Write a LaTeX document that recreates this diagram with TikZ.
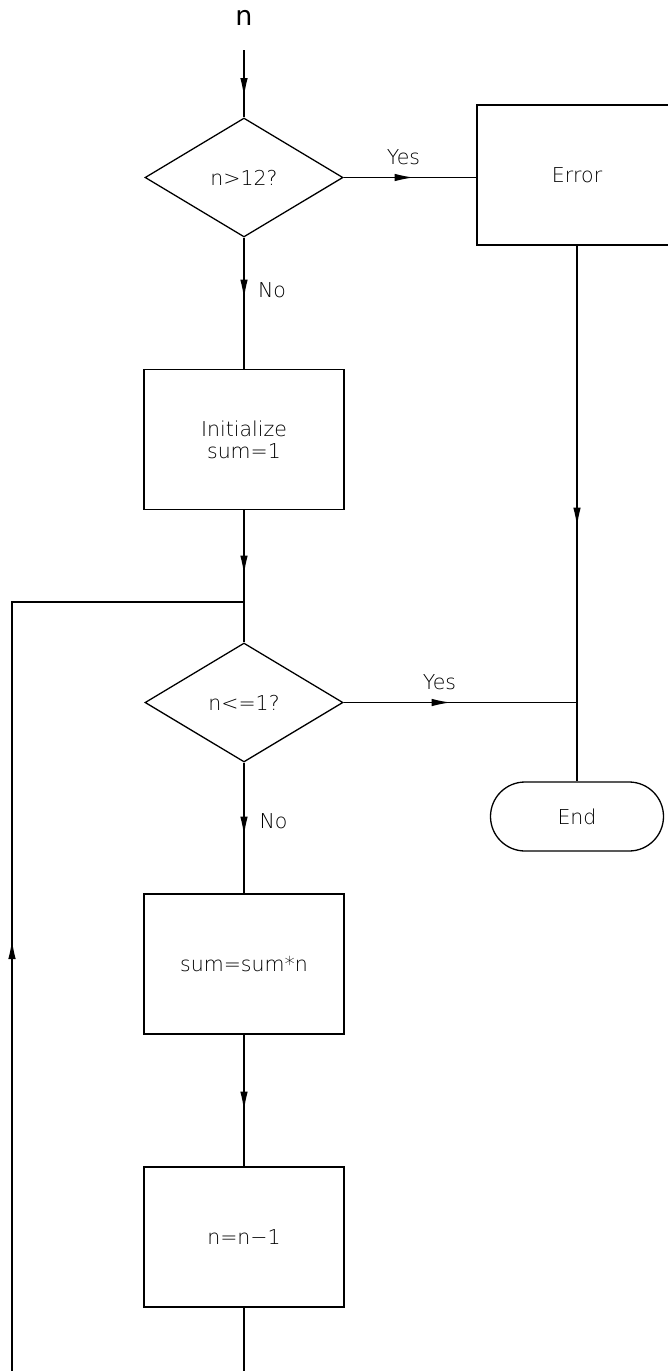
\documentclass[tikz,border=0pt]{standalone}
\usepackage{fontspec}
\setmainfont{DejaVu Sans ExtraLight}
\newfontfamily\inputfont{DejaVu Sans}
\usetikzlibrary{shapes.geometric,arrows.meta,decorations.markings}

\tikzset{
  base/.style={draw, line width=1.3pt, inner sep=0pt, font=\fontsize{20.5}{22}\selectfont},
  procbox/.style={base, rectangle, minimum width=200pt, minimum height=140pt, align=center},
  decision/.style={base, diamond, aspect=1.66, minimum width=198pt, minimum height=119pt},
  terminal/.style={base, rectangle, rounded corners=34.5pt, minimum width=173pt, minimum height=69pt},
  lbl/.style={inner sep=0pt, font=\fontsize{20.5}{22}\selectfont},
  flow/.style={line width=1.3pt},
  tipat/.style={postaction={decorate, decoration={markings,
      mark=at position #1 with {\arrow{Latex[length=19pt,width=7.5pt]}}}}}
}

\begin{document}
\begin{tikzpicture}[x=1pt, y=-1pt]
  \useasboundingbox (0,0) rectangle (668,1371);

  % input
  \node[lbl, font=\inputfont\fontsize{27}{30}\selectfont] (input) at (244,18) {n};
  \coordinate (start) at (244,50);

  % nodes
  \node[decision] (chk1) at (244,177.5) {n>12?};
  \node[procbox]  (err)  at (577,175)   {Error};
  \node[procbox]  (init) at (244,439.5) {Initialize\\sum=1};
  \coordinate (loop) at (244,602);
  \node[decision] (chk2) at (244,702.5) {n<=1?};
  \node[terminal] (fin)  at (577,816.5) {End};
  \node[procbox]  (mul)  at (244,964)   {sum=sum*n};
  \node[procbox]  (dec)  at (244,1237)  {n=n−1};
  \coordinate (merge) at (err.south |- chk2.east);
  \coordinate (bot1) at (244,1371);
  \coordinate (bot2) at (12,1371);
  \coordinate (back) at (12,602);

  % connectors
  \draw[flow, tipat=47pt]  (start) -- (chk1.north);
  \draw[flow, tipat=70pt]  (chk1.east) -- (chk1.east -| err.west);
  \draw[flow, tipat=61pt]  (chk1.south) -- (init.north);
  \draw[flow, tipat=64.5pt] (init.south) -- (loop);
  \draw[flow]              (loop) -- (chk2.north);
  \draw[flow, tipat=107pt] (chk2.east) -- (merge);
  \draw[flow, tipat=281pt] (err.south) -- (fin.north);
  \draw[flow, tipat=73pt]  (chk2.south) -- (mul.north);
  \draw[flow, tipat=76pt]  (mul.south) -- (dec.north);
  \draw[flow]              (dec.south) -- (bot1);
  \draw[flow, tipat=431pt] (bot2) -- (back) -- (loop);

  % branch labels
  \node[lbl] (yes1) at (403.5,157) {Yes};
  \node[lbl] (no1)  at (272,290)   {No};
  \node[lbl] (yes2) at (439.5,682) {Yes};
  \node[lbl] (no2)  at (273.5,821) {No};
\end{tikzpicture}
\end{document}
